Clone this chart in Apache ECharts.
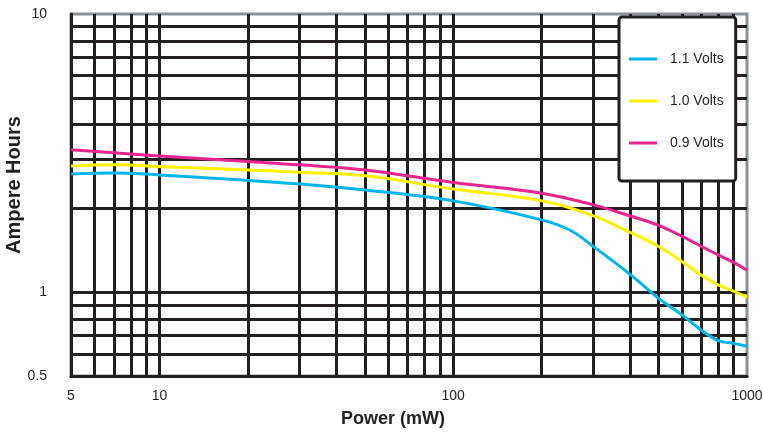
<!DOCTYPE html>
<html><head><meta charset="utf-8">
<script src="https://cdn.jsdelivr.net/npm/echarts@6/dist/echarts.min.js"></script>
<style>html,body{margin:0;padding:0;background:#fff}#c{width:763px;height:437px}</style>
</head><body><div id="c"></div>
<script>
// Data (Power mW, Ampere Hours)
const v11 = [[5,2.66],[7,2.68],[10,2.64],[20,2.52],[30,2.45],[50,2.33],[100,2.13],[200,1.82],[250,1.67],[300,1.46],[400,1.16],[500,0.95],[600,0.83],[700,0.73],[800,0.67],[900,0.655],[1000,0.64]];
const v10 = [[5,2.84],[7,2.87],[10,2.83],[20,2.75],[30,2.70],[50,2.62],[100,2.35],[200,2.13],[300,1.88],[400,1.64],[500,1.46],[600,1.29],[700,1.15],[800,1.06],[900,1.01],[1000,0.96]];
const v09 = [[5,3.25],[10,3.09],[20,2.95],[30,2.87],[50,2.75],[100,2.48],[200,2.27],[300,2.06],[400,1.88],[500,1.74],[600,1.59],[700,1.46],[800,1.36],[900,1.28],[1000,1.20]];
const seriesNames = ['1.1 Volts','1.0 Volts','0.9 Volts'];
const xGrid = [5,6,7,8,9,10,20,30,40,50,60,70,80,90,100,200,300,400,500,600,700,800,900];
const yGrid = [0.5,0.6,0.7,0.8,0.9,1,2,3,4,5,6,7,8,9];
const xLabels = [5,10,100,1000];
const yLabels = [0.5,1,10];

const ink = '#231f20';
const chart = echarts.init(document.getElementById('c'));
const mk = (arr, key) => arr.map(v => ({[key]: v}));
const curve = (i, data, color) => ({name:seriesNames[i],type:'line',data:data,smooth:0.4,
  showSymbol:false,z:3,color:color,lineStyle:{width:3}});
chart.setOption({
  animation:false,
  textStyle:{fontFamily:'Liberation Sans, Arial, sans-serif'},
  grid:{left:71,right:16,top:14,bottom:61,outerBoundsMode:'none',containLabel:false,
    show:true,borderColor:'#8c9196',borderWidth:3,backgroundColor:'#fff'},
  xAxis:{type:'log',logBase:10,min:5,max:1000,
    name:'Power (mW)',nameLocation:'middle',nameGap:34,
    nameTextStyle:{fontSize:18,fontWeight:'bold',color:ink,padding:[0,32,0,0]},
    axisLine:{show:true,lineStyle:{color:ink,width:3}},
    axisTick:{show:false},splitLine:{show:false},
    axisLabel:{color:ink,fontSize:14,margin:13,showMinLabel:true,showMaxLabel:true,
      formatter:v=>{const r=Math.round(v*1000)/1000;return xLabels.includes(r)?String(r):'';}}},
  yAxis:{type:'log',logBase:10,min:0.5,max:10,
    name:'Ampere Hours',nameLocation:'middle',nameGap:47,nameRotate:90,nameMoveOverlap:false,
    nameTextStyle:{fontSize:20,fontWeight:'bold',color:ink,padding:[0,0,0,20]},
    axisLine:{show:true,lineStyle:{color:ink,width:3}},
    axisTick:{show:false},splitLine:{show:false},
    axisLabel:{color:ink,fontSize:14,margin:24,showMinLabel:true,showMaxLabel:true,
      formatter:v=>{const r=Math.round(v*1000)/1000;return yLabels.includes(r)?String(r):'';}}},
  legend:{data:seriesNames,orient:'vertical',left:619,top:17,width:117,z:10,
    padding:[35,12,31,10],itemGap:28,itemWidth:28,itemHeight:3,icon:'rect',
    backgroundColor:'#fff',borderColor:ink,borderWidth:3,borderRadius:3,
    textStyle:{fontSize:14,color:ink,padding:[0,0,0,8]}},
  series:[
    {type:'line',data:[],silent:true,z:1,
      markLine:{silent:true,z:1,symbol:'none',label:{show:false},animation:false,
        lineStyle:{color:ink,width:3,type:'solid'},
        data:[...mk(xGrid,'xAxis'),...mk(yGrid,'yAxis')]}},
    curve(0, v11, '#00b4ec'),
    curve(1, v10, '#fff200'),
    curve(2, v09, '#e8248f')
  ]
});
</script></body></html>
